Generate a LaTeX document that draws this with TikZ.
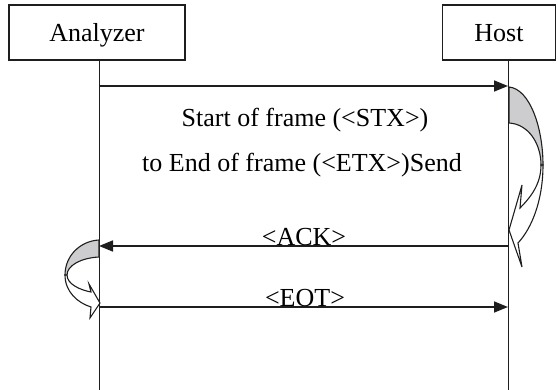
\documentclass[tikz,border=0pt]{standalone}
\usepackage{fontspec}
\setmainfont{Liberation Serif}
\usetikzlibrary{arrows.meta}
\definecolor{ink}{RGB}{30,30,30}
\definecolor{shade}{RGB}{205,205,207}
\tikzset{
  box/.style={draw=ink, line width=1.3pt, fill=white, inner sep=0pt, text depth=0pt, font=\fontsize{26}{30}\selectfont},
  life/.style={draw=ink, line width=1pt},
  msg/.style={draw=ink, line width=1.6pt, -{Triangle[length=14pt,width=11pt]}},
  lbl/.style={font=\fontsize{26}{30}\selectfont, inner sep=0pt, anchor=base},
  curvearrow/.style={draw=ink, line width=1.1pt, line join=miter},
}
\begin{document}
\begin{tikzpicture}[x=1pt,y=-1pt]
\useasboundingbox (0,0) rectangle (558,390);
% boxes
\node[box, minimum width=176pt, minimum height=55pt] (an) at (97,32.5) {Analyzer};
\node[box, minimum width=113pt, minimum height=55pt] (ho) at (499,32.5) {Host};
% lifeline coordinates
\coordinate (aTop) at (99,60);
\coordinate (aBot) at (99,390);
\coordinate (hTop) at (508,60);
\coordinate (hBot) at (508,390);
\draw[life] (aTop) -- (aBot);
\draw[life] (hTop) -- (hBot);
% messages
\coordinate (a1) at (99,86);
\coordinate (h1) at (508,86);
\coordinate (h2) at (508,246);
\coordinate (a2) at (99,246);
\coordinate (a3) at (99,307);
\coordinate (h3) at (508,307);
\draw[msg] (a1) -- (h1);
\draw[msg] (h2) -- (a2);
\draw[msg] (a3) -- (h3);
% labels
\node[lbl] (t1) at (305,127) {Start of frame (<STX>)};
\node[lbl] (t2) at (302,172) {to End of frame (<ETX>)Send};
\node[lbl] (t3) at (304,246) {<ACK>};
\node[lbl] (t4) at (305,307) {<EOT>};
% right curved arrow (Host)
\filldraw[curvearrow, fill=shade] (509,87) .. controls (530,89) and (543,128) .. (543,165)
  -- (541,165) .. controls (541,143) and (528,124) .. (509,123) -- cycle;
\filldraw[curvearrow, fill=white] (543,165) .. controls (543,200) and (532,228) .. (518,243)
  -- (522,267) -- (509,230) -- (522,185) -- (520,208)
  .. controls (532,196) and (541,183) .. (541,165) -- cycle;
% left curved arrow (Analyzer)
\filldraw[curvearrow, fill=shade] (99,240) .. controls (80,241) and (65,256) .. (65,275)
  -- (67,275) .. controls (67,266) and (80,258) .. (99,257) -- cycle;
\filldraw[curvearrow, fill=white] (65,275) .. controls (65,292) and (78,303) .. (91,307)
  -- (90,318) -- (100,303) -- (89,284) -- (91,292)
  .. controls (80,290) and (67,284) .. (67,275) -- cycle;
\end{tikzpicture}
\end{document}
